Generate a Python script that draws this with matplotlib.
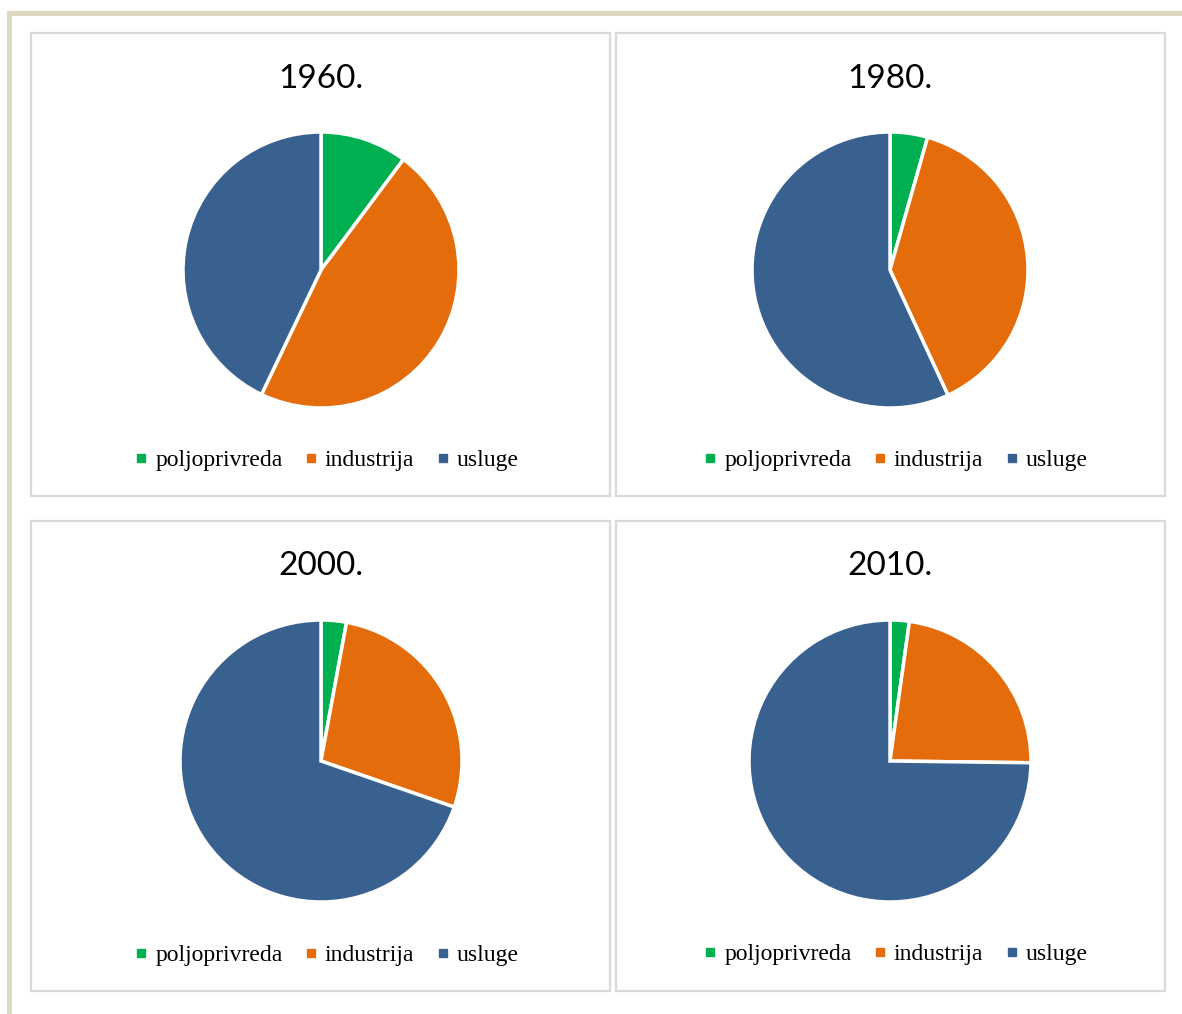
import matplotlib.pyplot as plt
from matplotlib.patches import Rectangle
from matplotlib.lines import Line2D

# shares of employment by sector (%)
years = ["1960.", "1980.", "2000.", "2010."]
sectors = ["poljoprivreda", "industrija", "usluge"]
share_1960 = [10.2, 46.9, 42.9]
share_1980 = [4.4, 38.7, 56.9]
share_2000 = [2.9, 27.4, 69.7]
share_2010 = [2.2, 23.0, 74.8]
shares = [share_1960, share_1980, share_2000, share_2010]

colors = ["#00B050", "#E46C0A", "#386190"]

W, H = 1182, 1014
fig = plt.figure(figsize=(W / 100, H / 100), dpi=100)


def fx(x):
    return x / W


def fy(y):
    return 1 - y / H


# outer beige frame (left and top edges)
fig.patches.append(Rectangle((fx(7), 0), fx(5), fy(11), transform=fig.transFigure,
                             facecolor="#DDD9C3", edgecolor="none", zorder=-5))
fig.patches.append(Rectangle((fx(7), fy(16)), 1 - fx(7), 5 / H, transform=fig.transFigure,
                             facecolor="#DDD9C3", edgecolor="none", zorder=-5))

# panel boxes: (left, top, right, bottom) in pixels
panels = [(31, 33, 610, 496), (616, 33, 1165, 496),
          (31, 521, 610, 991), (616, 521, 1165, 991)]
# pie centre and radius, title and legend positions
pie_geo = [(321, 270, 138), (890, 270, 138), (321, 761, 141), (890, 761, 141)]
title_y = [79, 79, 566, 566]
legend_pos = [(327, 460), (896, 460), (327, 955), (896, 954)]

handles = [Line2D([], [], marker="s", linestyle="", color=c, markersize=6) for c in colors]

for i, vals in enumerate(shares):
    l, t, r, b = panels[i]
    fig.patches.append(Rectangle((fx(l), fy(b)), fx(r - l), (b - t) / H,
                                 transform=fig.transFigure, facecolor="white",
                                 edgecolor="#D9D9D9", linewidth=1.6, zorder=-2))
    cx, cy, rad = pie_geo[i]
    ax = fig.add_axes([fx(cx - rad), fy(cy + rad), fx(2 * rad), 2 * rad / H])
    ax.pie(vals, colors=colors, startangle=90, counterclock=False, radius=1,
           wedgeprops=dict(edgecolor="white", linewidth=2.5))
    ax.set_xlim(-1.0, 1.0)
    ax.set_ylim(-1.0, 1.0)
    ax.set_aspect("equal")
    ax.axis("off")

    fig.text(fx(cx), fy(title_y[i]), years[i], ha="center", va="center",
             fontsize=24, family="Lato")

    lx, ly = legend_pos[i]
    fig.legend(handles, sectors, loc="center", bbox_to_anchor=(fx(lx), fy(ly)),
               ncol=3, frameon=False, handlelength=0.5, handletextpad=0.35,
               columnspacing=0.95, prop={"family": "Liberation Serif", "size": 17})

fig.savefig("out.png", dpi=100)
